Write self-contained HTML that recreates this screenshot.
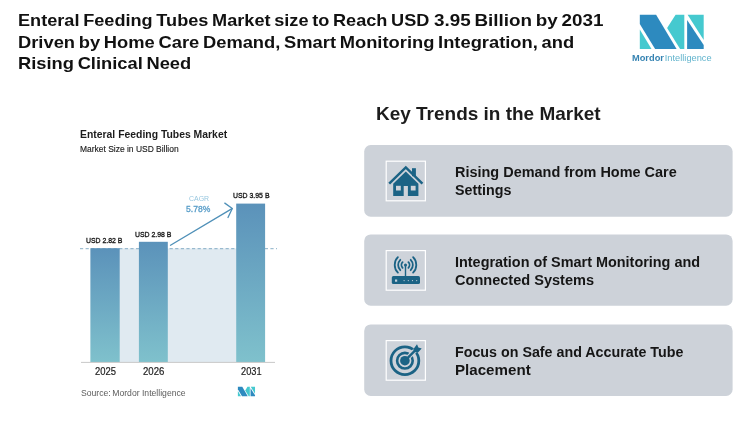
<!DOCTYPE html>
<html lang="en">
<head>
<meta charset="utf-8">
<title>Enteral Feeding Tubes Market</title>
<style>
html,body{margin:0;padding:0;background:#fff;}
body{width:750px;height:429px;position:relative;overflow:hidden;font-family:"Liberation Sans",sans-serif;color:#111;}
.t{position:absolute;white-space:nowrap;line-height:1;transform-origin:0 0;}
svg{position:absolute;left:0;top:0;}
</style>
</head>
<body>

<svg width="750" height="429" viewBox="0 0 750 429">
<defs>
<linearGradient id="bg" x1="0" y1="0" x2="0" y2="1">
<stop offset="0" stop-color="#5b92ba"/>
<stop offset="1" stop-color="#7fc1cc"/>
</linearGradient>
</defs>
<g id="cards" fill="#cdd2d9">
<rect x="364.2" y="145.05" width="368.4" height="71.6" rx="6.5"/>
<rect x="364.2" y="234.4" width="368.4" height="71.3" rx="6.5"/>
<rect x="364.2" y="324.4" width="368.4" height="71.6" rx="6.5"/>
</g>
<g id="iboxes" fill="#ced3da" stroke="#ffffff" stroke-width="1.2">
<rect x="386.2" y="161.2" width="39.2" height="39.6"/>
<rect x="386.2" y="250.6" width="39.2" height="39.6"/>
<rect x="386.2" y="340.6" width="39.2" height="39.6"/>
</g>
<rect x="90.7" y="248.5" width="146" height="113.5" fill="#e0eaf1"/>
<line x1="80" y1="248.7" x2="277" y2="248.7" stroke="#6a9ab8" stroke-width="0.8" stroke-dasharray="3.2 2.4"/>
<rect x="90.4" y="248.2" width="29.3" height="113.8" fill="url(#bg)"/>
<rect x="138.9" y="241.8" width="28.9" height="120.2" fill="url(#bg)"/>
<rect x="236.2" y="203.6" width="28.9" height="158.4" fill="url(#bg)"/>
<line x1="81" y1="362.4" x2="275" y2="362.4" stroke="#c2c2c2" stroke-width="0.9"/>
<g fill="none" stroke="#4f90b8" stroke-width="1.3" stroke-linecap="round" stroke-linejoin="round">
<line x1="170.5" y1="245.2" x2="232" y2="208.6"/>
<polyline points="224.8,203.1 232.3,208.5 228,217.5"/>
</g>
<!-- icons -->
<g id="ic1" fill="#1b6385">
<polygon points="405.8,171.6 418.4,183.8 418.4,196 393.2,196 393.2,183.8"/>
<polyline points="389.2,183.6 405.8,167.4 422.4,183.6" fill="none" stroke="#1b6385" stroke-width="2.5" stroke-linejoin="miter"/>
<rect x="412" y="168.2" width="3.9" height="8"/>
<rect x="403.7" y="186" width="4.2" height="10.2" fill="#ced3da"/>
<rect x="396" y="185.8" width="4.8" height="4.7" fill="#ced3da"/>
<rect x="410.8" y="185.8" width="4.8" height="4.7" fill="#ced3da"/>
</g>
<g id="ic2" fill="none" stroke="#1b6385" stroke-width="1.8" stroke-linecap="round">
<rect x="391.8" y="276.1" width="28.2" height="8" rx="1.6" fill="#1b6385" stroke="none"/>
<line x1="405.5" y1="265" x2="405.5" y2="276.5" stroke-width="1.4"/>
<circle cx="405.5" cy="264.9" r="1.5" fill="#1b6385" stroke="none"/>
<path d="M402.6,262.2 A4,4 0 0 0 402.6,267.8"/>
<path d="M408.4,262.2 A4,4 0 0 1 408.4,267.8"/>
<path d="M400.3,259.8 A7.4,7.4 0 0 0 400.3,270.2"/>
<path d="M410.7,259.8 A7.4,7.4 0 0 1 410.7,270.2"/>
<path d="M397.9,257.2 A10.9,10.9 0 0 0 397.9,272.6"/>
<path d="M413.1,257.2 A10.9,10.9 0 0 1 413.1,272.6"/>
<g fill="#c5d3dd" stroke="none">
<rect x="395" y="279.5" width="2.2" height="2.2"/>
<circle cx="404.1" cy="280.6" r="0.6"/><circle cx="408.3" cy="280.6" r="0.6"/><circle cx="412.5" cy="280.6" r="0.6"/><circle cx="416.7" cy="280.6" r="0.6"/>
</g>
</g>
<g id="ic3">
<circle cx="404.9" cy="360.7" r="13.9" fill="none" stroke="#1b6385" stroke-width="2.8"/>
<circle cx="404.9" cy="360.7" r="7.8" fill="none" stroke="#1b6385" stroke-width="2.6"/>
<line x1="409.2" y1="356.4" x2="418" y2="347.6" stroke="#ced3da" stroke-width="4.8"/>
<circle cx="404.9" cy="360.7" r="4.8" fill="#1b6385"/>
<line x1="407" y1="358.6" x2="416" y2="349.6" stroke="#1b6385" stroke-width="2.3"/>
<polygon points="413.3,349.3 417,344.2 418.4,347.5 421.7,348.6 418,352.6 414.1,351.9" fill="#1b6385"/>
</g>
<!-- header logo -->
<g id="mlogo">
<polygon points="639.8,14.8 656.1,14.8 676.6,48.9 655.1,48.9 639.8,24" fill="#2d8abf"/>
<polygon points="639.8,29.6 639.8,48.9 651.5,48.9" fill="#45c9cf"/>
<polygon points="675.6,14.8 684.3,14.8 684.3,48.9 680.1,48.9 667.1,28" fill="#45c9cf"/>
<polygon points="687.6,14.8 703.7,14.8 703.7,40.1" fill="#45c9cf"/>
<polygon points="687.1,20 687.1,48.9 703.7,48.9 703.7,45.1" fill="#2d8abf"/>
</g>
<!-- small logo -->
<g transform="translate(237.9,386.8) scale(0.268,0.276) translate(-639.8,-14.8)">
<polygon points="639.8,14.8 656.1,14.8 676.6,48.9 655.1,48.9 639.8,24" fill="#2d8abf"/>
<polygon points="639.8,29.6 639.8,48.9 651.5,48.9" fill="#45c9cf"/>
<polygon points="675.6,14.8 684.3,14.8 684.3,48.9 680.1,48.9 667.1,28" fill="#45c9cf"/>
<polygon points="687.6,14.8 703.7,14.8 703.7,40.1" fill="#45c9cf"/>
<polygon points="687.1,20 687.1,48.9 703.7,48.9 703.7,45.1" fill="#2d8abf"/>
</g>
</svg>

<div class="t" id="h1" style="left:18.00px;top:12px;font-size:16.3px;font-weight:bold;color:#111;word-spacing:-1.2px;transform:scaleX(1.1133)">Enteral Feeding Tubes Market size to Reach USD</div>
<div class="t" id="h1b" style="left:433.83px;top:12px;font-size:16.3px;font-weight:bold;color:#111;word-spacing:-1.2px;transform:scaleX(1.1560)">3.95 Billion by 2031</div>
<div class="t" id="h2" style="left:18.00px;top:34px;font-size:16.3px;font-weight:bold;color:#111;word-spacing:-1.2px;transform:scaleX(1.1251)">Driven by Home Care Demand, Smart Monitoring Integration, and</div>
<div class="t" id="h3" style="left:18.00px;top:55px;font-size:16.3px;font-weight:bold;color:#111;word-spacing:-1.2px;transform:scaleX(1.1237)">Rising Clinical Need</div>
<div class="t" id="kt" style="left:375.60px;top:106px;font-size:17.9px;font-weight:bold;color:#1c1c1c;transform:scaleX(1.0606)">Key Trends in the Market</div>
<div class="t" id="c1a" style="left:455.20px;top:166px;font-size:13.9px;font-weight:bold;color:#161616;transform:scaleX(1.0410)">Rising Demand from Home Care</div>
<div class="t" id="c1b" style="left:455.20px;top:184px;font-size:13.9px;font-weight:bold;color:#161616;transform:scaleX(1.0281)">Settings</div>
<div class="t" id="c2a" style="left:455.20px;top:256px;font-size:13.9px;font-weight:bold;color:#161616;transform:scaleX(1.0378)">Integration of Smart Monitoring and</div>
<div class="t" id="c2b" style="left:455.20px;top:274px;font-size:13.9px;font-weight:bold;color:#161616;transform:scaleX(1.0476)">Connected Systems</div>
<div class="t" id="c3a" style="left:455.20px;top:346px;font-size:13.9px;font-weight:bold;color:#161616;transform:scaleX(1.0272)">Focus on Safe and Accurate Tube</div>
<div class="t" id="c3b" style="left:455.20px;top:364px;font-size:13.9px;font-weight:bold;color:#161616;transform:scaleX(1.0890)">Placement</div>
<div class="t" id="ch1" style="left:80.40px;top:129px;font-size:10.6px;color:#1c1c1c;font-weight:bold;transform:scaleX(0.9815)">Enteral Feeding Tubes Market</div>
<div class="t" id="ch2" style="left:80.40px;top:145px;font-size:9.3px;color:#1c1c1c;-webkit-text-stroke:0.15px #1c1c1c;transform:scaleX(0.9092)">Market Size in USD Billion</div>
<div class="t" id="v1" style="left:86.34px;top:237px;font-size:7.8px;color:#1c1c1c;-webkit-text-stroke:0.35px #1c1c1c;transform:scaleX(0.8861)">USD 2.82 B</div>
<div class="t" id="v2" style="left:135.34px;top:231px;font-size:7.8px;color:#1c1c1c;-webkit-text-stroke:0.35px #1c1c1c;transform:scaleX(0.8861)">USD 2.98 B</div>
<div class="t" id="v3" style="left:232.56px;top:192px;font-size:7.8px;color:#1c1c1c;-webkit-text-stroke:0.35px #1c1c1c;transform:scaleX(0.8865)">USD 3.95 B</div>
<div class="t" id="cagr" style="left:189.02px;top:196px;font-size:7.1px;color:#98c7df;transform:scaleX(0.9787)">CAGR</div>
<div class="t" id="pct" style="left:186.06px;top:205px;font-size:8.6px;color:#5a9ec9;-webkit-text-stroke:0.3px #5a9ec9;transform:scaleX(0.9948)">5.78%</div>
<div class="t" id="y1" style="left:94.74px;top:366px;font-size:10.6px;color:#222;-webkit-text-stroke:0.2px #222;transform:scaleX(0.8882)">2025</div>
<div class="t" id="y2" style="left:143.21px;top:366px;font-size:10.6px;color:#222;-webkit-text-stroke:0.2px #222;transform:scaleX(0.9048)">2026</div>
<div class="t" id="y3" style="left:240.62px;top:366px;font-size:10.6px;color:#222;-webkit-text-stroke:0.2px #222;transform:scaleX(0.8710)">2031</div>
<div class="t" id="src" style="left:81.35px;top:389px;font-size:9.3px;color:#5c5c5c;transform:scaleX(0.9273)">Source:<span style="font-size:6px"> </span> Mordor Intelligence</div>
<div class="t" id="logo" style="left:631.52px;top:54px;font-size:8.8px;;transform:scaleX(1.0529)"><b style="color:#3583b2">Mordor</b><span style="font-size:3px"> </span><span style="color:#62b4cd">Intelligence</span></div>
</body>
</html>
